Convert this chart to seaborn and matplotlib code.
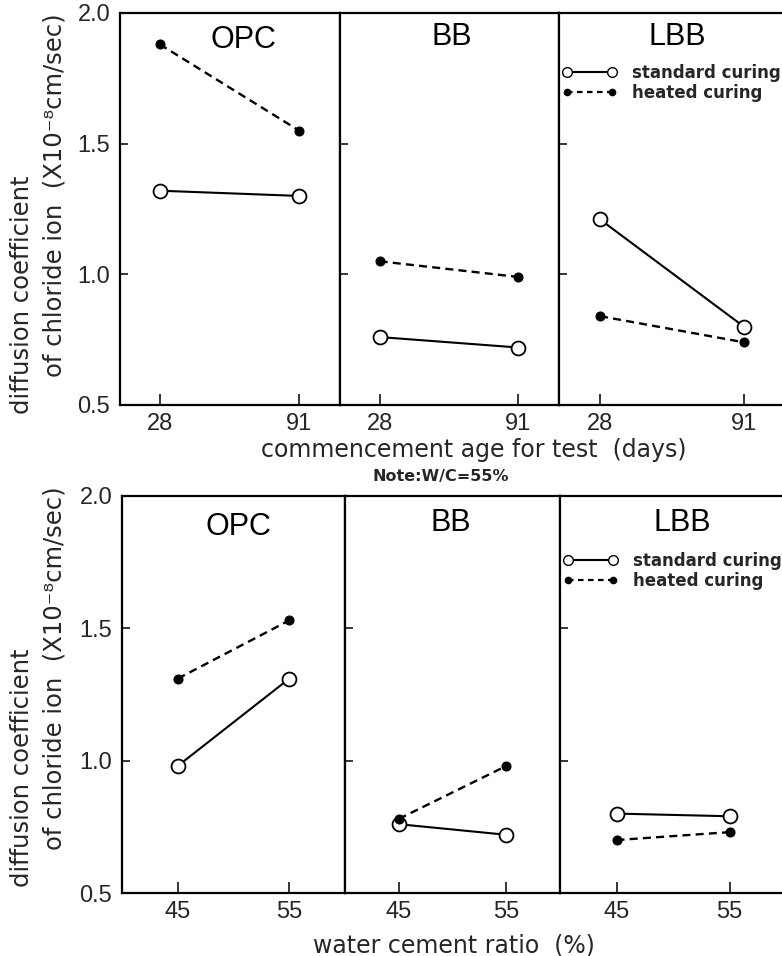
import matplotlib
matplotlib.use("Agg")
import matplotlib.pyplot as plt
from matplotlib.lines import Line2D
import seaborn as sns
import pandas as pd

# ---------------- data ----------------
cements = ["OPC", "BB", "LBB"]
ages = [28, 91]
wc_ratios = [45, 55]

# top: commencement age (W/C = 55%)
age_standard_opc = [1.32, 1.30]
age_heated_opc = [1.88, 1.55]
age_standard_bb = [0.76, 0.72]
age_heated_bb = [1.05, 0.99]
age_standard_lbb = [1.21, 0.80]
age_heated_lbb = [0.84, 0.74]

# bottom: water cement ratio
wc_standard_opc = [0.98, 1.31]
wc_heated_opc = [1.31, 1.53]
wc_standard_bb = [0.76, 0.72]
wc_heated_bb = [0.78, 0.98]
wc_standard_lbb = [0.80, 0.79]
wc_heated_lbb = [0.70, 0.73]

y_ticks = [0.5, 1.0, 1.5, 2.0]
y_ticklabels = ["0.5", "1.0", "1.5", "2.0"]

# ---------------- style ----------------
sns.set_style("ticks")
plt.rcParams["font.family"] = ["Liberation Sans", "DejaVu Sans"]
plt.rcParams["axes.linewidth"] = 1.6
WIDE = ["DejaVu Sans", "Liberation Sans"]

W, H = 782, 956
fig = plt.figure(figsize=(W / 100, H / 100), dpi=100)


def frac_box(x0, x1, ytop, ybot):
    return [x0 / W, 1 - ybot / H, (x1 - x0) / W, (ybot - ytop) / H]


def build_df(xs, std, heat, xname):
    rows = []
    for x, v in zip(xs, std):
        rows.append({xname: x, "D": v, "curing": "standard curing"})
    for x, v in zip(xs, heat):
        rows.append({xname: x, "D": v, "curing": "heated curing"})
    return pd.DataFrame(rows)


def draw_row(edges, ytop, ybot, xs, xname, xlim, series, title_pos, title_y,
             legend_y):
    axes = []
    for i, cem in enumerate(cements):
        ax = fig.add_axes(frac_box(edges[i], edges[i + 1], ytop, ybot))
        std, heat = series[i]
        df = build_df(xs, std, heat, xname)
        sns.lineplot(data=df[df.curing == "standard curing"], x=xname, y="D",
                     color="black", linewidth=1.5, marker="o", markersize=10,
                     markerfacecolor="white", markeredgecolor="black",
                     markeredgewidth=1.3, errorbar=None, ax=ax, legend=False)
        sns.lineplot(data=df[df.curing == "heated curing"], x=xname, y="D",
                     color="black", linewidth=1.7, linestyle=(0, (3.4, 2.2)),
                     marker="o", markersize=6.5, markerfacecolor="black",
                     markeredgecolor="black", errorbar=None, ax=ax, legend=False)
        ax.set_xlim(*xlim)
        ax.set_ylim(0.5, 2.0)
        ax.set_xticks(xs)
        ax.set_xticklabels([str(x) for x in xs], fontsize=17)
        ax.set_yticks(y_ticks)
        ax.set_xlabel("")
        ax.set_ylabel("")
        ax.tick_params(axis="x", direction="in", length=8, width=1.3, pad=6)
        ax.tick_params(axis="y", direction="in", length=6, width=1.3, pad=7)
        if i == 0:
            ax.set_yticklabels(y_ticklabels, fontsize=17)
        else:
            ax.tick_params(axis="y", labelleft=False)
        if i == 2:
            ax.spines["right"].set_visible(False)
        for s in ax.spines.values():
            s.set_color("black")
        ax.text(title_pos[i], title_y[i], cem, transform=ax.transAxes,
                ha="center", va="center", fontsize=22, color="black")
        if i == 2:
            handles = [
                Line2D([0], [0], color="black", lw=1.5, marker="o", markersize=7,
                       markerfacecolor="white", markeredgecolor="black"),
                Line2D([0], [0], color="black", lw=1.6, linestyle=(0, (2.5, 2)),
                       marker="o", markersize=4.5, markerfacecolor="black",
                       markeredgecolor="black"),
            ]
            ax.legend(handles, ["standard curing", "heated curing"], numpoints=2,
                      loc="upper left", bbox_to_anchor=(-0.03, legend_y),
                      frameon=False, handlelength=3.3, handletextpad=0.9,
                      labelspacing=0.12, borderaxespad=0.2,
                      prop={"family": WIDE, "weight": "bold", "size": 12})
        axes.append(ax)
    return axes


top_series = [(age_standard_opc, age_heated_opc),
              (age_standard_bb, age_heated_bb),
              (age_standard_lbb, age_heated_lbb)]
bot_series = [(wc_standard_opc, wc_heated_opc),
              (wc_standard_bb, wc_heated_bb),
              (wc_standard_lbb, wc_heated_lbb)]

draw_row([120, 340, 559, 786], 13, 405, ages, "age", (10, 109.5), top_series,
         [0.56, 0.51, 0.52], [0.931, 0.939, 0.939], 0.895)
draw_row([122, 345, 560, 786], 496, 893, wc_ratios, "wc", (40, 60), bot_series,
         [0.52, 0.49, 0.54], [0.922, 0.932, 0.932], 0.885)

# axis labels
fig.text(474 / W, 1 - 450 / H, "commencement age for test  (days)", ha="center",
         va="center", fontsize=17, family=WIDE)
fig.text(441 / W, 1 - 477 / H, "Note:W/C=55%", ha="center", va="center",
         fontsize=11.5, weight="bold", family=WIDE)
fig.text(454 / W, 1 - 945 / H, "water cement ratio  (%)", ha="center",
         va="center", fontsize=17, family=WIDE)

for off in (0, 473):
    fig.text(22 / W, 1 - (295 + off) / H, "diffusion coefficient", rotation=90,
             ha="center", va="center", fontsize=17.5, family=WIDE)
    fig.text(55 / W, 1 - (195 + off) / H, "of chloride ion  (X10\u207b\u2078cm/sec)",
             rotation=90, ha="center", va="center", fontsize=17.5, family=WIDE)

fig.savefig("out.png", dpi=100, facecolor="white")
